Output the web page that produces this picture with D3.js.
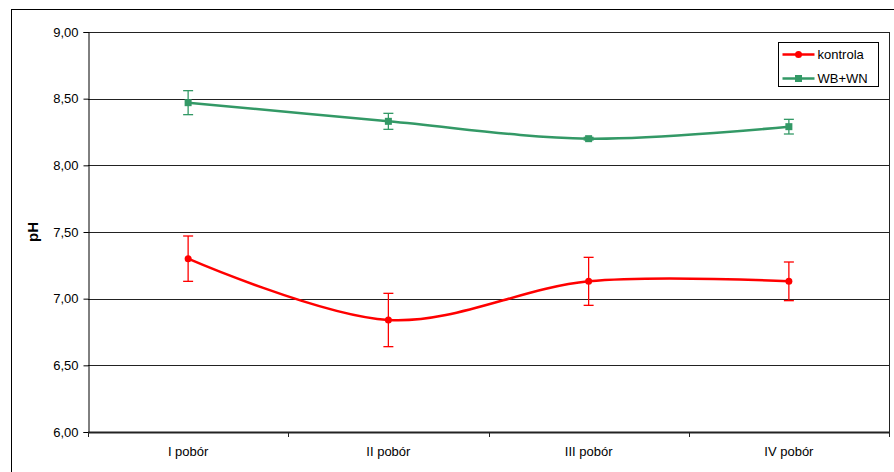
<!DOCTYPE html>
<html>
<head>
<meta charset="utf-8">
<script src="https://cdn.jsdelivr.net/npm/d3@7"></script>
<style>
  body { margin: 0; background: #fff; }
  svg { display: block; font-family: "Liberation Sans", Arial, sans-serif; }
</style>
</head>
<body>
<div id="chart"></div>
<script>
// data
var categories = ["I pobór", "II pobór", "III pobór", "IV pobór"];
var kontrola = [7.30, 6.84, 7.13, 7.13];
var kontrolaErr = [0.17, 0.20, 0.18, 0.145];
var wbwn = [8.47, 8.33, 8.20, 8.29];
var wbwnErr = [0.09, 0.06, 0.01, 0.055];
var yTicks = [6.0, 6.5, 7.0, 7.5, 8.0, 8.5, 9.0];

var series = [
    { name: "kontrola", values: kontrola, err: kontrolaErr, color: "#ff0000", marker: "circle" },
    { name: "WB+WN", values: wbwn, err: wbwnErr, color: "#339966", marker: "square" }
];

var W = 894, H = 472;
var margin = { left: 88, top: 32, right: 5, bottom: 40 };
var width = 889 - margin.left;
var height = 432 - margin.top;

var svg = d3.select("#chart").append("svg").attr("width", W).attr("height", H);

// outer chart border
svg.append("rect").attr("x", 11.5).attr("y", 9.5).attr("width", 900).attr("height", 500)
    .attr("fill", "none").attr("stroke", "#000").attr("stroke-width", 1);

var g = svg.append("g").attr("transform", "translate(" + margin.left + "," + margin.top + ")");

var x = d3.scaleBand().domain(categories).range([0, width]);
var y = d3.scaleLinear().domain([6, 9]).range([height, 0]);
var fmt = function(d) { return d3.format(".2f")(d).replace(".", ","); };

// gridlines
g.selectAll(".grid").data(yTicks).enter().append("line")
    .attr("x1", 0).attr("x2", width)
    .attr("y1", function(d) { return Math.round(y(d)) + 0.5; })
    .attr("y2", function(d) { return Math.round(y(d)) + 0.5; })
    .attr("stroke", "#222").attr("stroke-width", 1);

// right border of plot area
g.append("line").attr("x1", width + 0.5).attr("x2", width + 0.5).attr("y1", 0).attr("y2", height + 5)
    .attr("stroke", "#222");

// y axis
var yAxis = d3.axisLeft(y).tickValues(yTicks).tickFormat(fmt).tickSize(5).tickPadding(5);
var ya = g.append("g").attr("transform", "translate(0.5,0)").call(yAxis);
ya.select(".domain").attr("stroke", "#000");
ya.selectAll("text").attr("font-size", 13).attr("fill", "#000")
    .attr("font-family", "Liberation Sans, Arial, sans-serif");

// x axis
var xa = g.append("g").attr("transform", "translate(0," + height + ")");
xa.append("line").attr("x1", 0).attr("x2", width).attr("y1", 0.5).attr("y2", 0.5)
    .attr("stroke", "#222").attr("stroke-width", 2);
xa.selectAll(".tk").data(d3.range(categories.length + 1)).enter().append("line")
    .attr("x1", function(i) { return Math.round(i * x.step()) + 0.5; })
    .attr("x2", function(i) { return Math.round(i * x.step()) + 0.5; })
    .attr("y1", 0).attr("y2", 5).attr("stroke", "#222");
xa.selectAll(".lbl").data(categories).enter().append("text")
    .attr("x", function(d) { return x(d) + x.bandwidth() / 2; })
    .attr("y", 24).attr("text-anchor", "middle").attr("font-size", 13).attr("fill", "#000")
    .text(function(d) { return d; });

// y label
svg.append("text").attr("transform", "translate(38,232) rotate(-90)")
    .attr("text-anchor", "middle").attr("font-size", 15).attr("font-weight", "bold")
    .text("pH");

var cx = function(i) { return x(categories[i]) + x.bandwidth() / 2; };
var line = d3.line()
    .x(function(d, i) { return cx(i); })
    .y(function(d) { return y(d); })
    .curve(d3.curveCardinal.tension(0));

series.forEach(function(s) {
    var sg = g.append("g");
    // error bars
    s.values.forEach(function(v, i) {
        var top = y(v + s.err[i]), bot = y(v - s.err[i]);
        sg.append("line").attr("x1", cx(i)).attr("x2", cx(i)).attr("y1", top).attr("y2", bot)
            .attr("stroke", s.color).attr("stroke-width", 1.3);
        [top, bot].forEach(function(yy) {
            sg.append("line").attr("x1", cx(i) - 5).attr("x2", cx(i) + 5).attr("y1", yy).attr("y2", yy)
                .attr("stroke", s.color).attr("stroke-width", 1.3);
        });
    });
    sg.append("path").attr("d", line(s.values)).attr("fill", "none")
        .attr("stroke", s.color).attr("stroke-width", 2.5);
    s.values.forEach(function(v, i) {
        if (s.marker === "circle") {
            sg.append("circle").attr("cx", cx(i)).attr("cy", y(v)).attr("r", 3.5).attr("fill", s.color);
        } else {
            sg.append("rect").attr("x", cx(i) - 3.5).attr("y", y(v) - 3.5).attr("width", 7).attr("height", 7)
                .attr("fill", s.color);
        }
    });
});

// legend
var lg = svg.append("g").attr("transform", "translate(778.5,42.5)");
lg.append("rect").attr("width", 100).attr("height", 44).attr("fill", "#fff").attr("stroke", "#000");
series.forEach(function(s, i) {
    var yy = 12 + i * 24;
    lg.append("line").attr("x1", 4).attr("x2", 36).attr("y1", yy).attr("y2", yy)
        .attr("stroke", s.color).attr("stroke-width", 2.5);
    if (s.marker === "circle") {
        lg.append("circle").attr("cx", 20).attr("cy", yy).attr("r", 3.5).attr("fill", s.color);
    } else {
        lg.append("rect").attr("x", 16.5).attr("y", yy - 3.5).attr("width", 7).attr("height", 7).attr("fill", s.color);
    }
    lg.append("text").attr("x", 39).attr("y", yy + 4.5).attr("font-size", 13).text(s.name);
});
</script>
</body>
</html>
